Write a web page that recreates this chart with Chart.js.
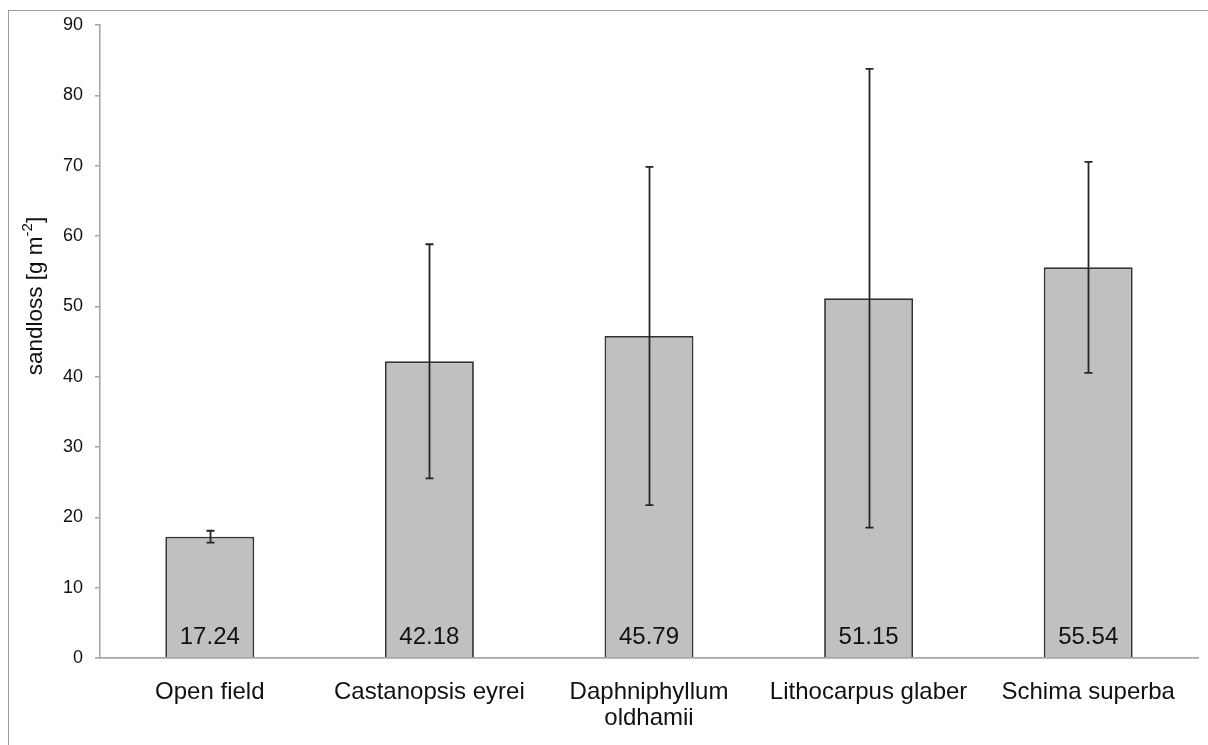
<!DOCTYPE html>
<html>
<head>
<meta charset="utf-8">
<script src="https://cdn.jsdelivr.net/npm/chart.js@4/dist/chart.umd.min.js"></script>
<style>
  html, body { margin: 0; padding: 0; background: #fff; overflow: hidden; }
  #frame {
    position: absolute; left: 8px; top: 10px; width: 1300px; height: 900px;
    border-left: 1.5px solid #9a9a9a; border-top: 1.5px solid #9a9a9a;
  }
  #wrap { position: absolute; left: 0; top: 0; width: 1208px; height: 745px; }
</style>
</head>
<body>
<div id="frame"></div>
<div id="wrap"><canvas id="chart" width="1208" height="745"></canvas></div>
<script>
// Sand loss per plot type: means and standard deviations
const categories = ['Open field', 'Castanopsis eyrei', ['Daphniphyllum', 'oldhamii'], 'Lithocarpus glaber', 'Schima superba'];
const meanLoss = [17.24, 42.18, 45.79, 51.15, 55.54];
const sdLoss = [0.85, 16.65, 24.05, 32.6, 15.0];
const yTicks = [0, 10, 20, 30, 40, 50, 60, 70, 80, 90];

const FONT = '"Liberation Sans", Arial, sans-serif';

// Error bars (mean ± sd) on top of each bar
const errorBars = {
  id: 'errorBars',
  afterDatasetsDraw(chart) {
    const ctx = chart.ctx;
    const y = chart.scales.y;
    const meta = chart.getDatasetMeta(0);
    ctx.save();
    ctx.strokeStyle = '#262626';
    ctx.lineWidth = 1.8;
    meta.data.forEach((bar, i) => {
      const hi = y.getPixelForValue(meanLoss[i] + sdLoss[i]);
      const lo = y.getPixelForValue(meanLoss[i] - sdLoss[i]);
      const x = Math.round(bar.x) + 0.5;
      ctx.beginPath();
      ctx.moveTo(x, hi); ctx.lineTo(x, lo);
      ctx.moveTo(x - 4, hi); ctx.lineTo(x + 4, hi);
      ctx.moveTo(x - 4, lo); ctx.lineTo(x + 4, lo);
      ctx.stroke();
    });
    ctx.restore();
  }
};

// Mean value printed near the foot of each bar
const valueLabels = {
  id: 'valueLabels',
  afterDatasetsDraw(chart) {
    const ctx = chart.ctx;
    const y0 = chart.scales.y.getPixelForValue(0);
    const meta = chart.getDatasetMeta(0);
    ctx.save();
    ctx.fillStyle = '#111';
    ctx.font = '24px ' + FONT;
    ctx.textAlign = 'center';
    ctx.textBaseline = 'middle';
    meta.data.forEach((bar, i) => {
      ctx.fillText(meanLoss[i].toFixed(2), bar.x, y0 - 21);
    });
    ctx.restore();
  }
};

// Rotated y-axis title with superscript unit exponent
const yTitle = {
  id: 'yTitle',
  afterDraw(chart) {
    const ctx = chart.ctx;
    const main = '22.5px ' + FONT;
    const sup = '15px ' + FONT;
    const parts = [['sandloss [g m', main, 0], ['-2', sup, -8], [']', main, 0]];
    ctx.save();
    let total = 0;
    parts.forEach(p => { ctx.font = p[1]; total += ctx.measureText(p[0]).width; });
    ctx.translate(36, 296);
    ctx.rotate(-Math.PI / 2);
    ctx.fillStyle = '#111';
    ctx.textBaseline = 'middle';
    ctx.textAlign = 'left';
    let x = -total / 2;
    parts.forEach(p => {
      ctx.font = p[1];
      ctx.fillText(p[0], x, p[2]);
      x += ctx.measureText(p[0]).width;
    });
    ctx.restore();
  }
};

new Chart(document.getElementById('chart'), {
  type: 'bar',
  data: {
    labels: categories,
    datasets: [{
      data: meanLoss,
      backgroundColor: '#c0c0c0',
      borderColor: '#333333',
      borderWidth: 1.8,
      categoryPercentage: 1,
      barPercentage: 0.405
    }]
  },
  options: {
    responsive: false,
    animation: false,
    devicePixelRatio: 1,
    layout: { padding: { top: 25, right: 10, bottom: 0, left: 0 } },
    plugins: { legend: { display: false }, tooltip: { enabled: false } },
    scales: {
      x: {
        grid: { display: false, drawTicks: false },
        border: { color: '#a8a8a8', width: 1.8 },
        ticks: {
          color: '#111',
          font: { family: FONT, size: 24, lineHeight: 1.06 },
          padding: 22,
          maxRotation: 0,
          autoSkip: false
        },
        afterFit(scale) { scale.height = 87; }
      },
      y: {
        min: 0,
        max: 90,
        afterBuildTicks(scale) { scale.ticks = yTicks.map(v => ({ value: v })); },
        grid: { drawOnChartArea: false, drawTicks: true, tickLength: 5, color: '#a8a8a8', lineWidth: 1.6 },
        border: { color: '#a8a8a8', width: 1.6 },
        ticks: {
          color: '#111',
          font: { family: FONT, size: 18 },
          padding: 12
        },
        afterFit(scale) { scale.width = 100; }
      }
    }
  },
  plugins: [errorBars, valueLabels, yTitle]
});
</script>
</body>
</html>
